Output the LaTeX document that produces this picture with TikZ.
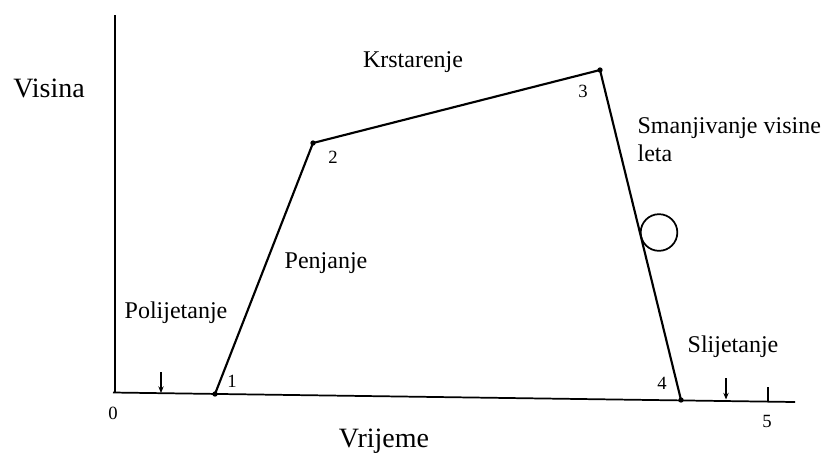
\documentclass[tikz,border=0pt]{standalone}
\usepackage{fontspec}
\setmainfont{Liberation Serif}
\usetikzlibrary{arrows.meta,calc}

\begin{document}
\begin{tikzpicture}[
  x=0.75pt, y=-0.75pt,
  ax/.style    ={line width=1.3pt},
  seg/.style   ={line width=1.6pt},
  pt/.style    ={circle,fill,inner sep=0pt,minimum size=4pt},
  num/.style   ={font=\fontsize{14}{16}\selectfont,inner sep=1pt},
  lbl/.style   ={font=\fontsize{18}{21}\selectfont,inner sep=1pt},
  big/.style   ={font=\fontsize{21}{24}\selectfont,inner sep=1pt},
  tickln/.style={line width=0.9pt},
  >={Stealth[length=5pt,width=4pt]}]
\useasboundingbox (0,0) rectangle (838,455);

%---------------- axes ----------------
\coordinate (top)  at (115,15);
\coordinate (orig) at (115,393);
\coordinate (xend) at (795,402);
\draw[ax] (top) -- (orig);
\draw[ax] (113,392.5) -- (xend);
\node[big] (vis) at (49,88) {Visina};
\node[big] (vri) at (384,441) {Vrijeme};
\node[num] (n0) at (113,413) {0};

%---------------- flight profile ----------------
\node[pt] (p1) at (215,394) {};
\node[pt] (p2) at (313,143) {};
\node[pt] (p3) at (600,70) {};
\node[pt] (p4) at (681,400) {};
\draw[seg] (p1.center) -- (p2.center) -- (p3.center) -- (p4.center);
\node[num] (n1) at (232,381) {1};
\node[num] (n2) at (333,157) {2};
\node[num] (n3) at (583,91) {3};
\node[num] (n4) at (662,383) {4};
\node[num] (n5) at (767,421) {5};

% holding loop
\node[circle,draw,line width=1.3pt,minimum size=27.5pt,inner sep=0pt] (hold) at (659,232.5) {};

%---------------- phase labels ----------------
\node[lbl] (kr)  at (413,62) {Krstarenje};
\node[lbl] (pen) at (326,263) {Penjanje};
\node[lbl] (pol) at (176,313) {Polijetanje};
\node[lbl,anchor=west,align=left] (sman) at (636,140)
  {Smanjivanje visine\\leta};
\node[lbl] (sli) at (733,347) {Slijetanje};

%---------------- ticks ----------------
\coordinate (t1a) at (161,372);
\coordinate (t1b) at (161,393);
\coordinate (t2a) at (726,378);
\coordinate (t2b) at (726,399.5);
\draw[tickln,->] (t1a) -- (t1b);
\draw[tickln,->] (t2a) -- (t2b);
\coordinate (t5a) at (768,387);
\coordinate (t5b) at (768,400.5);
\draw[tickln] (t5a) -- (t5b);

\end{tikzpicture}
\end{document}
